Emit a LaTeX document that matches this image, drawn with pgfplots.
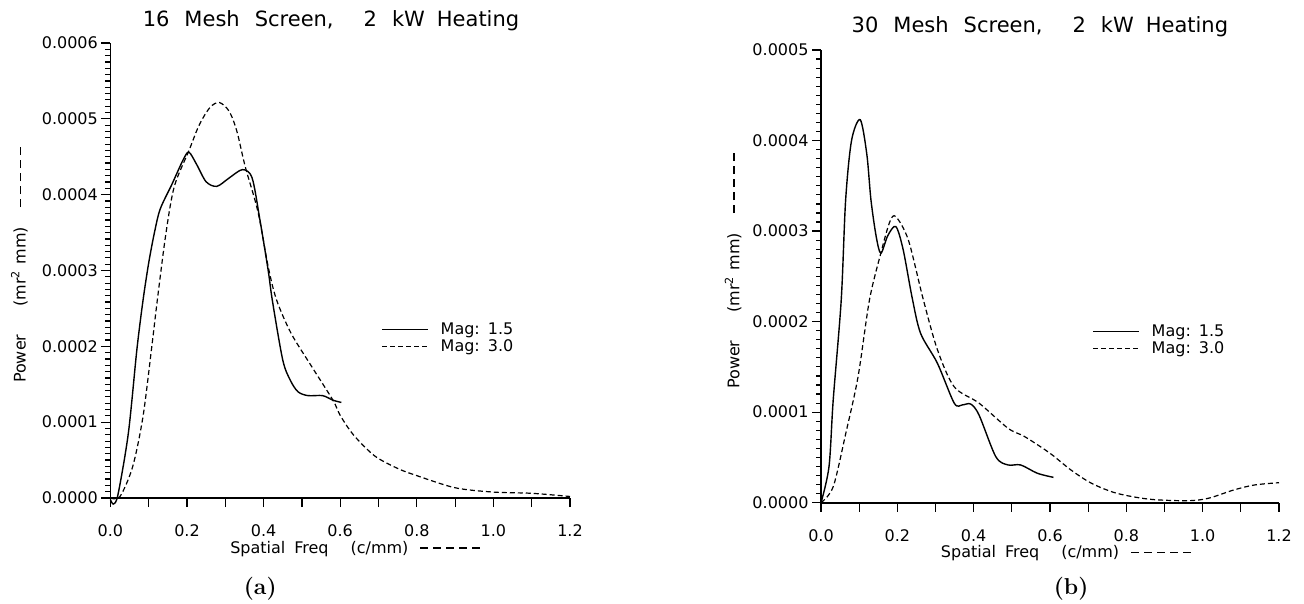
\documentclass[border=0pt]{standalone}
\usepackage{fontspec}
\newfontfamily\dv{DejaVu Sans}
\usepackage{pgfplots}
\pgfplotsset{compat=1.18}
\newcommand{\fs}[1]{\fontsize{#1}{#1}\selectfont}
\newcommand{\dashes}{\rule[0.3em]{8pt}{1.1pt}\hspace{5pt}\rule[0.3em]{8pt}{1.1pt}\hspace{5pt}\rule[0.3em]{8pt}{1.1pt}\hspace{5pt}\rule[0.3em]{8pt}{1.1pt}\hspace{5pt}\rule[0.3em]{8pt}{1.1pt}}
\pgfplotsset{
  psd/.style={
    scale only axis,
    xmin=0, xmax=1.2, ymin=0,
    axis x line=bottom, axis y line=left,
    axis line style={-, line width=1.6pt},
    tick align=outside,
    tick style={line width=1.2pt, black},
    major tick length=9pt, minor tick length=5pt,
    xtick={0,0.1,0.2,0.3,0.4,0.5,0.6,0.7,0.8,0.9,1.0,1.1,1.2},
    xticklabels={0.0,,0.2,,0.4,,0.6,,0.8,,1.0,,1.2},
    scaled y ticks=false,
    yticklabel style={/pgf/number format/.cd, fixed, fixed zerofill, precision=4, assume math mode=true},
    every tick label/.append style={font=\dv\fs{16}},
    xticklabel style={yshift=-14pt},
    clip=false,
    legend cell align=left,
    legend image code/.code={\draw[#1] (0pt,0pt) -- (46pt,0pt);},
    legend style={draw=none, fill=none, font=\dv\fs{16}, inner sep=0pt, row sep=0pt,
      nodes={inner sep=2pt}, anchor=north west,
      /tikz/every odd column/.append style={column sep=10pt}},
    every axis y label/.style={rotate=90, anchor=center, font=\dv\fs{16}},
    every axis x label/.style={anchor=center, font=\dv\fs{16}},
    every axis title/.style={anchor=center, font=\dv\fs{21}},
  },
  s1/.style={black, line width=1.4pt, smooth, tension=0.5},
  s3/.style={black, line width=1.2pt, dash pattern=on 5pt off 3pt, smooth, tension=0.5},
}
\begin{document}
\begin{tikzpicture}
\useasboundingbox (0,0) rectangle (1304pt,603pt);
% ---------------- (a)
\begin{axis}[psd,
  at={(110.4pt,105pt)}, anchor=south west,
  width=459.6pt, height=455pt,
  ymax=0.0006,
  ytick={0,0.0001,0.0002,0.0003,0.0004,0.0005,0.0006},
  minor y tick num=11,
  title={16\hspace{15pt}Mesh\hspace{15pt}Screen,\hspace{30pt}2\hspace{15pt}kW\hspace{12pt}Heating},
  title style={at={(axis description cs:0.48,1.05)}},
  xlabel={Spatial\hspace{9pt}Freq\hspace{22pt}(c/mm)\hspace{12pt}\dashes},
  xlabel style={at={(axis description cs:0.533,-0.112)}},
  ylabel={Power\hspace{28pt}(mr\textsuperscript{2}\hspace{6pt}mm)\hspace{20pt}\dashes},
  ylabel style={at={(axis description cs:-0.198,0.512)}},
  legend style={at={(axis description cs:0.589,0.39)}},
]
\addplot[s1] coordinates {
(0.0,-0.000002) (0.008,-0.000008) (0.02,0.000005) (0.047,0.000086) (0.069,0.000195)
(0.085,0.00026) (0.1,0.00031) (0.115,0.00035) (0.13,0.000381) (0.16,0.000413) (0.19,0.000446)
(0.205,0.000456) (0.225,0.00044) (0.25,0.000417) (0.278,0.000411) (0.31,0.000422)
(0.345,0.000433) (0.37,0.000422) (0.39,0.000368) (0.412,0.0003) (0.423,0.00026)
(0.45,0.000182) (0.47,0.000155) (0.49,0.00014) (0.516,0.000135) (0.554,0.000135)
(0.581,0.000129) (0.603,0.000126)
};
\addlegendentry{Mag:\hspace{8pt}1.5}
\addplot[s3] coordinates {
(0.0,0.0) (0.025,0.000002) (0.058,0.000041) (0.085,0.000107) (0.107,0.000195)
(0.123,0.000263) (0.145,0.000349) (0.167,0.000411) (0.205,0.000458) (0.232,0.000492)
(0.26,0.000515) (0.2845,0.0005215) (0.31,0.00051) (0.33,0.000484) (0.352,0.000437)
(0.385,0.000378) (0.412,0.000305) (0.434,0.000261) (0.472,0.000217) (0.526,0.000173)
(0.581,0.000129) (0.6,0.000109) (0.635,0.000083) (0.69,0.0000555) (0.75,0.000039)
(0.8,0.0000295) (0.9,0.0000135) (1.0,0.0000078) (1.1,0.0000062) (1.2,0.000002)
};
\addlegendentry{Mag:\hspace{8pt}3.0}
\node[font=\bfseries\fs{23}] at (axis description cs:0.326,-0.2) {(a)};
\end{axis}
% ---------------- (b)
\begin{axis}[psd,
  at={(821pt,100.3pt)}, anchor=south west,
  width=458pt, height=452.7pt,
  ymax=0.0005,
  ytick={0,0.0001,0.0002,0.0003,0.0004,0.0005},
  minor y tick num=9,
  title={30\hspace{15pt}Mesh\hspace{15pt}Screen,\hspace{30pt}2\hspace{15pt}kW\hspace{12pt}Heating},
  title style={at={(axis description cs:0.478,1.051)}},
  xlabel={Spatial\hspace{9pt}Freq\hspace{22pt}(c/mm)\hspace{12pt}\dashes},
  xlabel style={at={(axis description cs:0.535,-0.112)}},
  ylabel={Power\hspace{28pt}(mr\textsuperscript{2}\hspace{6pt}mm)\hspace{20pt}\dashes},
  ylabel style={at={(axis description cs:-0.192,0.512)}},
  legend style={at={(axis description cs:0.592,0.398)}},
]
\addplot[s1] coordinates {
(0,0) (0.021,0.00004) (0.032,0.0001135) (0.053,0.000224) (0.0645,0.000334)
(0.08,0.0004) (0.1027,0.000423) (0.12,0.000385) (0.131,0.000334) (0.145,0.000293)
(0.157,0.0002756) (0.175,0.000295) (0.196,0.000305) (0.215,0.00028) (0.239,0.000226)
(0.261,0.000187) (0.305,0.000154) (0.349,0.00011) (0.37,0.000108) (0.392,0.000109)
(0.414,0.0000969) (0.458,0.0000508) (0.49,0.0000417) (0.523,0.0000417)
(0.567,0.0000325) (0.609,0.000028)
};
\addlegendentry{Mag:\hspace{8pt}1.5}
\addplot[s3] coordinates {
(0,0) (0.032,0.0000177) (0.065,0.0000767) (0.097,0.000139) (0.127,0.000224)
(0.157,0.000276) (0.18,0.00031) (0.196,0.000316) (0.229,0.00029) (0.267,0.000226)
(0.305,0.000169) (0.349,0.000128) (0.414,0.00011) (0.49,0.0000822) (0.534,0.0000729)
(0.6,0.0000546) (0.655,0.0000361) (0.709,0.0000214) (0.775,0.0000104) (0.862,0.0000038)
(0.961,0.0000022) (1.015,0.0000049) (1.081,0.000014) (1.136,0.0000196) (1.2,0.0000221)
};
\addlegendentry{Mag:\hspace{8pt}3.0}
\node[font=\bfseries\fs{23}] at (axis description cs:0.546,-0.19) {(b)};
\end{axis}
\end{tikzpicture}
\end{document}
